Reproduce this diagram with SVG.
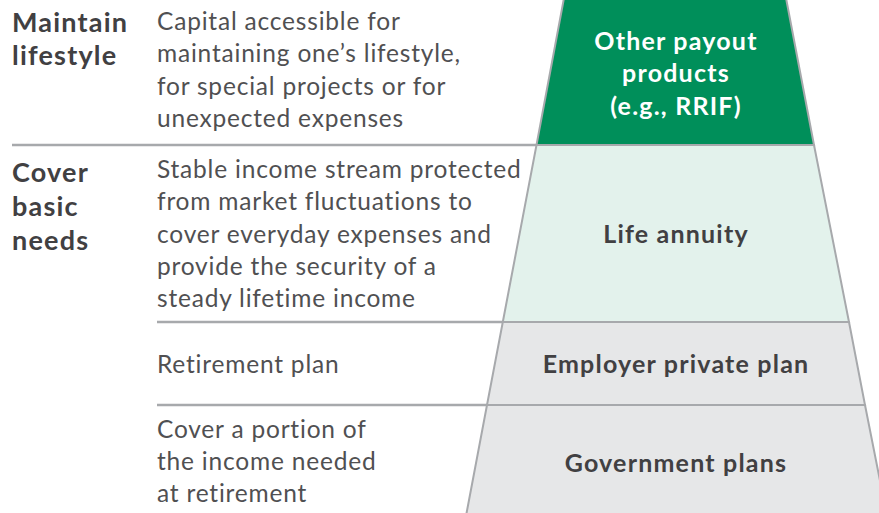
<svg xmlns="http://www.w3.org/2000/svg" width="879" height="513" viewBox="0 0 879 513">
<style>
.tier{stroke:#a7a9ac;stroke-width:2;stroke-linejoin:miter}
.sep{stroke:#a7a9ac;stroke-width:2.5;fill:none}
.head{font-family:Lato,"Noto Sans",sans-serif;font-weight:700;font-size:27px;letter-spacing:1.2px;fill:#414042}
.desc{font-family:Lato,"Noto Sans",sans-serif;font-weight:400;font-size:24.5px;letter-spacing:0.8px;fill:#505052}
.lbl{font-family:Lato,"Noto Sans",sans-serif;font-weight:700;font-size:25px;letter-spacing:1.2px;fill:#414042;text-anchor:middle}
.lblw{fill:#ffffff}
</style>
<rect width="879" height="513" fill="#ffffff"/>
<g id="connectors">
<line class="sep" x1="12" y1="145" x2="540" y2="145"/>
<line class="sep" x1="157" y1="322" x2="505" y2="322"/>
<line class="sep" x1="157" y1="405" x2="489" y2="405"/>
</g>
<g id="tier-other">
<polygon class="tier" points="564,-2 786,-2 814,145 536.5,145" fill="#008f5a"/>
<text class="lbl lblw" x="676" y="50">Other payout</text>
<text class="lbl lblw" x="676" y="82">products</text>
<text class="lbl lblw" x="676" y="115">(e.g., RRIF)</text>
</g>
<g id="tier-annuity">
<polygon class="tier" points="536.5,145 814,145 849,322 502.8,322" fill="#e3f2ec"/>
<text class="lbl" x="676" y="243">Life annuity</text>
</g>
<g id="tier-employer">
<polygon class="tier" points="502.8,322 849,322 865,405 487,405" fill="#e6e7e8"/>
<text class="lbl" x="676" y="373">Employer private plan</text>
</g>
<g id="tier-government">
<polygon class="tier" points="487,405 865,405 887,516 466,516" fill="#e6e7e8"/>
<text class="lbl" x="676" y="472">Government plans</text>
</g>
<g id="row-lifestyle">
<text class="head" x="12" y="32">Maintain</text>
<text class="head" x="12" y="65">lifestyle</text>
<text class="desc" x="157" y="30">Capital accessible for</text>
<text class="desc" x="157" y="62">maintaining one’s lifestyle,</text>
<text class="desc" x="157" y="95">for special projects or for</text>
<text class="desc" x="157" y="127">unexpected expenses</text>
</g>
<g id="row-basic">
<text class="head" x="12" y="182">Cover</text>
<text class="head" x="12" y="216">basic</text>
<text class="head" x="12" y="250">needs</text>
<text class="desc" x="157" y="178">Stable income stream protected</text>
<text class="desc" x="157" y="210">from market fluctuations to</text>
<text class="desc" x="157" y="243">cover everyday expenses and</text>
<text class="desc" x="157" y="275">provide the security of a</text>
<text class="desc" x="157" y="307">steady lifetime income</text>
</g>
<g id="row-retirement">
<text class="desc" x="157" y="373">Retirement plan</text>
</g>
<g id="row-government">
<text class="desc" x="157" y="438">Cover a portion of</text>
<text class="desc" x="157" y="470">the income needed</text>
<text class="desc" x="157" y="502">at retirement</text>
</g>
</svg>
